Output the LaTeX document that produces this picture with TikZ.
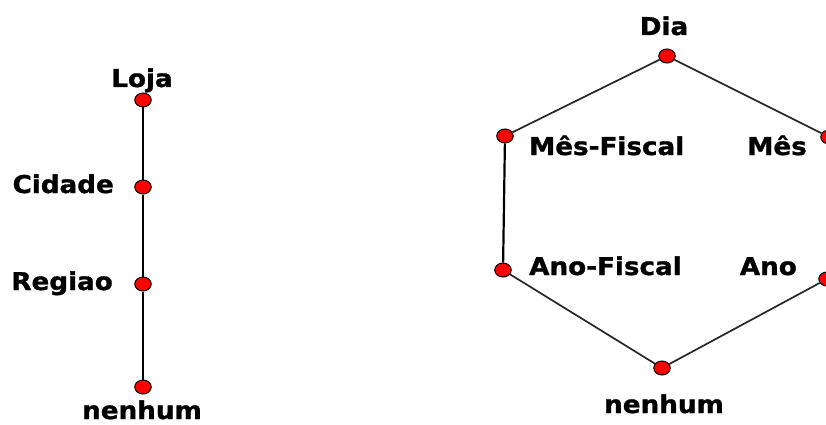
\documentclass[tikz,border=0pt]{standalone}
\usepackage{fontspec}
\newfontfamily\lblfont{DejaVu Sans}[FakeStretch=1.07,BoldFeatures={FakeBold=1.2}]
\usetikzlibrary{shapes.geometric}
\begin{document}
\begin{tikzpicture}[x=1pt,y=-1pt,
  dot/.style={ellipse,draw=black,line width=1pt,fill=red,minimum width=16.5pt,minimum height=14pt,inner sep=0pt},
  lbl/.style={font=\lblfont\bfseries\fontsize{24.5}{26}\selectfont,inner sep=0pt},
  vline/.style={line width=2.2pt,black},
  dline/.style={line width=1.7pt,black!85}]
\useasboundingbox (0,0) rectangle (826,425);
\clip (0,0) rectangle (826,425);
% left hierarchy
\node[dot] (loja) at (143,100) {};
\node[dot] (cidade) at (143,187) {};
\node[dot] (regiao) at (143,284) {};
\node[dot] (nenhumL) at (143,387) {};
\node[lbl,anchor=base] (tloja) at (142,87) {Loja};
\node[lbl,anchor=base east] (tcidade) at (114,193) {Cidade};
\node[lbl,anchor=base east] (tregiao) at (113,290) {Regiao};
\node[lbl,anchor=base] (tnenhumL) at (142,419) {nenhum};
\draw[vline] (loja) -- (cidade);
\draw[vline] (cidade) -- (regiao);
\draw[vline] (regiao) -- (nenhumL);
% right hierarchy
\node[dot] (dia) at (667,56) {};
\node[dot] (mesf) at (505,136) {};
\node[dot] (mes) at (829,137) {};
\node[dot] (anof) at (503,270) {};
\node[dot] (ano) at (827,279) {};
\node[dot] (nenhumR) at (662,368) {};
\node[lbl,anchor=base] (tdia) at (664,35) {Dia};
\node[lbl,anchor=base west] (tmesf) at (529,155) {Mês-Fiscal};
\node[lbl,anchor=base east] (tmes) at (807,155) {Mês};
\node[lbl,anchor=base west] (tanof) at (529,275) {Ano-Fiscal};
\node[lbl,anchor=base east] (tano) at (797,275) {Ano};
\node[lbl,anchor=base] (tnenhumR) at (664,413) {nenhum};
\draw[dline] (dia) -- (mesf);
\draw[dline] (dia) -- (mes);
\draw[vline] (mesf) -- (anof);
\draw[vline] (mes) -- (ano);
\draw[dline] (anof) -- (nenhumR);
\draw[dline] (ano) -- (nenhumR);
\end{tikzpicture}
\end{document}
